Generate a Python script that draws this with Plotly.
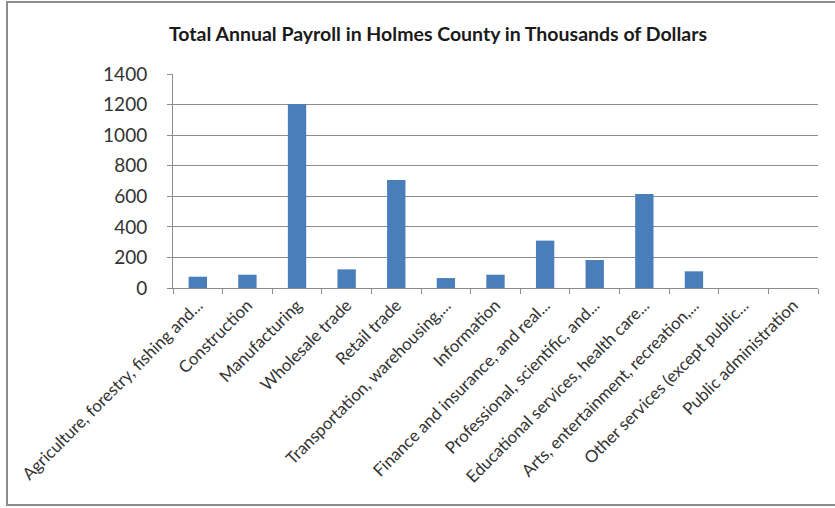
import plotly.graph_objects as go

categories = [
    "Agriculture, forestry, fishing and...",
    "Construction",
    "Manufacturing",
    "Wholesale trade",
    "Retail trade",
    "Transportation, warehousing,...",
    "Information",
    "Finance and insurance, and real...",
    "Professional, scientific, and...",
    "Educational services, health care...",
    "Arts, entertainment, recreation,...",
    "Other services (except public...",
    "Public administration",
]
payroll = [74, 87, 1203, 122, 707, 65, 87, 310, 183, 615, 109, 0, 0]
y_ticks = [0, 200, 400, 600, 800, 1000, 1200, 1400]

W, H = 835, 508
L, R, T, B = 173, 17, 74, 220
pw, ph = W - L - R, H - T - B

fig = go.Figure(go.Bar(
    x=categories, y=payroll,
    marker=dict(color="#4a7ebb", line=dict(width=0)),
    width=0.37,
))

fig.update_layout(
    width=W, height=H,
    margin=dict(l=L, r=R, t=T, b=B, pad=0),
    paper_bgcolor="white", plot_bgcolor="white",
    showlegend=False,
    title=dict(
        text="<b>Total Annual Payroll in Holmes County in Thousands of Dollars</b>",
        font=dict(family="Lato", size=19.5, color="#1a1a1a"),
        x=438 / W, xanchor="center", y=1 - 34 / H, yanchor="middle",
    ),
    font=dict(family="Lato", color="#333333"),
)
fig.update_xaxes(
    type="category",
    tickangle=-45,
    tickson="boundaries",
    ticks="outside", ticklen=5, tickcolor="#8c8c8c", tickwidth=1,
    showline=True, linecolor="#8c8c8c", linewidth=1,
    showgrid=False,
    tickfont=dict(family="Lato", size=16.8, color="#333333"),
    fixedrange=True,
)
fig.update_yaxes(
    range=[0, 1400],
    tickvals=y_ticks,
    ticks="outside", ticklen=5, tickcolor="#8c8c8c", tickwidth=1,
    showline=True, linecolor="#8c8c8c", linewidth=1,
    showgrid=True, gridcolor="#8c8c8c", gridwidth=1,
    zeroline=False,
    tickfont=dict(family="Lato", size=19, color="#333333"),
    ticklabelstandoff=16,
)

# outer chart border
fig.add_shape(
    type="rect", xref="paper", yref="paper",
    x0=(7 - L) / pw, x1=(845 - L) / pw,
    y0=(H - 505 - B) / ph, y1=(H - 2 - B) / ph,
    line=dict(color="#8c8c8c", width=2), fillcolor="rgba(0,0,0,0)",
    layer="below",
)

fig.write_html("out.html")
